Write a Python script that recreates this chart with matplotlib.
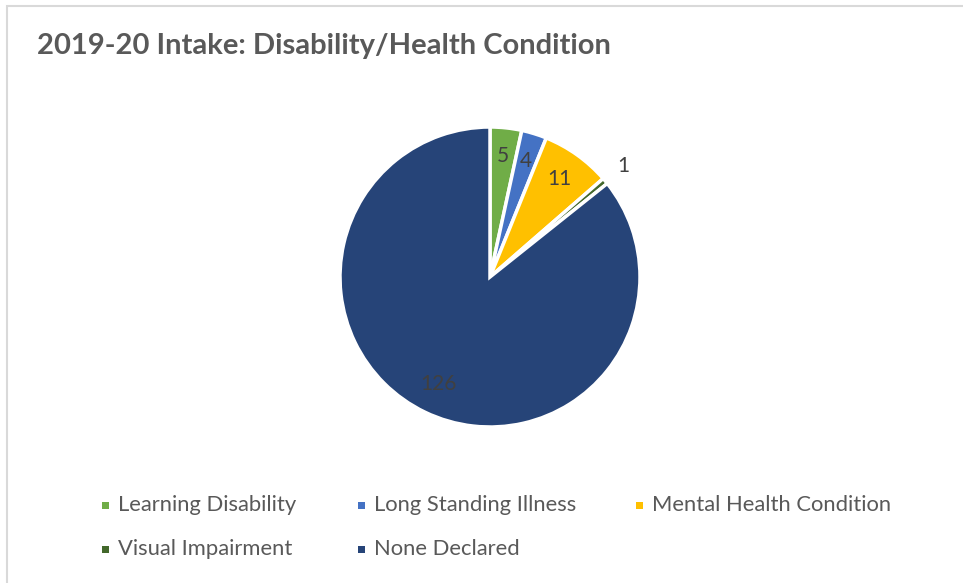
import matplotlib.pyplot as plt
from matplotlib.patches import Rectangle
import numpy as np

plt.rcParams['font.family'] = ['Lato', 'DejaVu Sans']

categories = ['Learning Disability', 'Long Standing Illness', 'Mental Health Condition',
              'Visual Impairment', 'None Declared']
counts = [5, 4, 11, 1, 126]
colours = ['#70AD47', '#4472C4', '#FFC000', '#43682B', '#264478']
label_dist = [0.81, 0.81, 0.80, 1.16, 0.79]

W, H = 963, 583
fig = plt.figure(figsize=(W / 100, H / 100), dpi=100)

# frame around the chart area
fig.patches.append(Rectangle((7 / W, -0.1), 1.2, (H - 6.5) / H + 0.1,
                             transform=fig.transFigure, fill=False,
                             edgecolor='#D9D9D9', linewidth=1.5))

fig.text(37 / W, 1 - 46 / H, '2019-20 Intake: Disability/Health Condition',
         fontsize=21, fontweight='bold', color='#595959', va='center', ha='left')

cx, cy, r = 490, 277, 150
ax = fig.add_axes([(cx - r) / W, (H - cy - r) / H, 2 * r / W, 2 * r / H])
wedges, _ = ax.pie(counts, colors=colours, startangle=90, counterclock=False,
                   wedgeprops=dict(edgecolor='white', linewidth=2.5))
ax.set_xlim(-1, 1)
ax.set_ylim(-1, 1)
ax.set_aspect('equal')
ax.axis('off')

# value labels at each wedge's mid angle
total = sum(counts)
start = 90.0
for n, d in zip(counts, label_dist):
    span = 360.0 * n / total
    mid = np.deg2rad(start - span / 2)
    ax.text(d * np.cos(mid), d * np.sin(mid), str(n), ha='center', va='center',
            fontsize=15, color='#404040', clip_on=False)
    start -= span

# legend laid out in rows
leg_pos = [(105, 505), (361, 505), (639, 505), (105, 549), (361, 549)]
for (x, y), name, c in zip(leg_pos, categories, colours):
    fig.patches.append(Rectangle(((x - 3.5) / W, 1 - (y + 3.5) / H), 7 / W, 7 / H,
                                 transform=fig.transFigure, facecolor=c,
                                 edgecolor='none'))
    fig.text((x + 13) / W, 1 - y / H, name, fontsize=15.8, color='#595959',
             va='center', ha='left')

fig.savefig('out.png', dpi=100, facecolor='white')
